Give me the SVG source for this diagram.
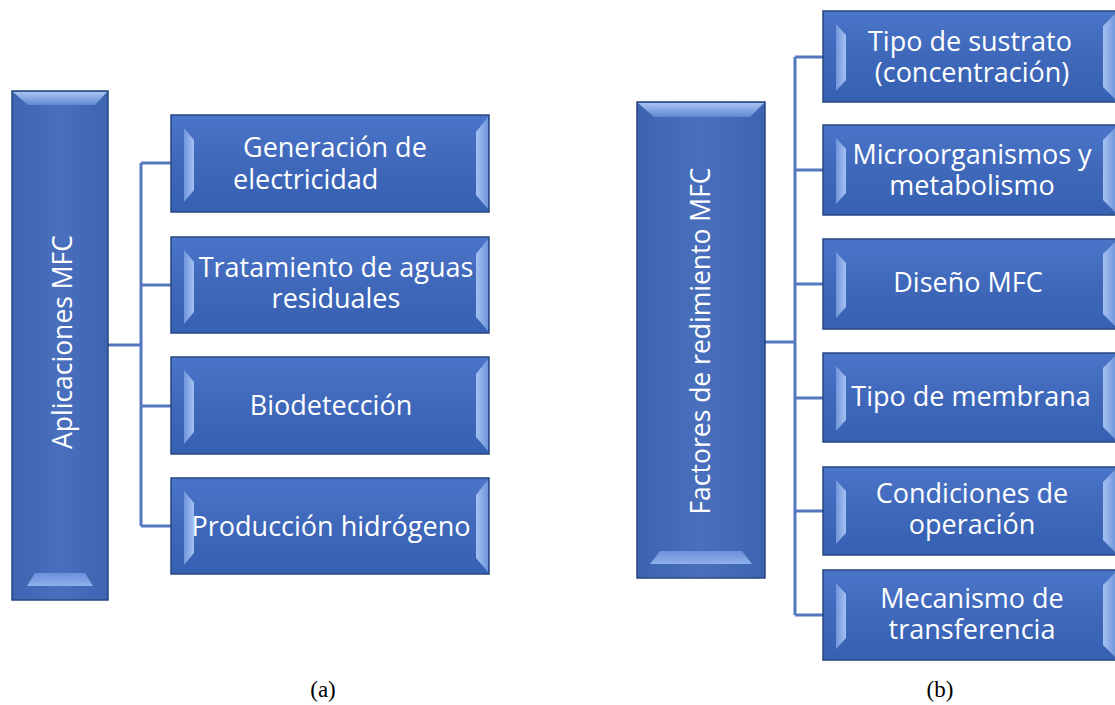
<svg xmlns="http://www.w3.org/2000/svg" width="1115" height="705" viewBox="0 0 1115 705">
<defs>
<linearGradient id="gBox" x1="0" y1="0" x2="0" y2="1">
<stop offset="0" stop-color="#4b75c8"/>
<stop offset="0.5" stop-color="#3f68bb"/>
<stop offset="1" stop-color="#3660b2"/>
</linearGradient>
<linearGradient id="gRoot" x1="0" y1="0" x2="1" y2="0">
<stop offset="0" stop-color="#3d64b0"/>
<stop offset="0.5" stop-color="#4a70bd"/>
<stop offset="1" stop-color="#3d64b0"/>
</linearGradient>
<linearGradient id="gL" x1="0" y1="0" x2="1" y2="0">
<stop offset="0" stop-color="#6f95dc"/>
<stop offset="1" stop-color="#a6c2f2"/>
</linearGradient>
<linearGradient id="gR" x1="0" y1="0" x2="1" y2="0">
<stop offset="0" stop-color="#a6c2f2"/>
<stop offset="1" stop-color="#6f95dc"/>
</linearGradient>
<linearGradient id="gT" x1="0" y1="0" x2="0" y2="1">
<stop offset="0" stop-color="#a9c4f3"/>
<stop offset="1" stop-color="#6088d2"/>
</linearGradient>
<linearGradient id="gB" x1="0" y1="0" x2="0" y2="1">
<stop offset="0" stop-color="#6a90d8"/>
<stop offset="1" stop-color="#8fb0ec"/>
</linearGradient>
</defs>
<style>
.box{fill:url(#gBox);stroke:#27487f;stroke-width:1.5}
.root{fill:url(#gRoot);stroke:#27487f;stroke-width:1.5}
.bl{fill:url(#gL)}
.br{fill:url(#gR)}
.bt{fill:url(#gT)}
.bb{fill:url(#gB)}
.t{font-family:"Open Sans","Liberation Sans",sans-serif;font-size:27px;fill:#ffffff}
.rt{font-family:"Open Sans","Liberation Sans",sans-serif;font-size:26.5px;fill:#ffffff;text-anchor:middle}
.c{text-anchor:middle}
.cap{font-family:"Liberation Serif",serif;font-size:23px;fill:#000;text-anchor:middle}
.con{fill:none;stroke:#5477bf;stroke-width:3}
</style>

<g id="connectors">
<path class="con" d="M108,345 H141 M141,163 V526 M141,163 H171 M141,285 H171 M141,406 H171 M141,526 H171"/>
<path class="con" d="M765,342 H795 M795,57 V615 M795,57 H823 M795,170 H823 M795,284 H823 M795,398 H823 M795,511 H823 M795,615 H823"/>
</g>

<g id="rootA">
<rect class="root" x="12" y="91" width="96" height="509"/>
<polygon class="bt" points="13,92 107,92 95,105 28,105"/>
<polygon class="bb" points="35,573 85,573 93,586 27,586"/>
<text class="rt" transform="translate(72,342) rotate(-90)">Aplicaciones MFC</text>
</g>

<g id="a1">
<rect class="box" x="171" y="115" width="318" height="97"/>
<polygon class="bl" points="184,128 194,140 194,190 184,202"/>
<polygon class="br" points="476,132 488,117 488,209 476,195"/>
<text class="t" x="243" y="157">Generación de</text>
<text class="t" x="233" y="189">electricidad</text>
</g>
<g id="a2">
<rect class="box" x="171" y="237" width="318" height="96"/>
<polygon class="bl" points="184,250 194,262 194,312 184,324"/>
<polygon class="br" points="476,254 488,239 488,331 476,317"/>
<text class="t c" x="336" y="277">Tratamiento de aguas</text>
<text class="t c" x="336" y="308">residuales</text>
</g>
<g id="a3">
<rect class="box" x="171" y="357" width="318" height="97"/>
<polygon class="bl" points="184,370 194,382 194,432 184,444"/>
<polygon class="br" points="476,374 488,359 488,451 476,437"/>
<text class="t c" x="331" y="415">Biodetección</text>
</g>
<g id="a4">
<rect class="box" x="171" y="478" width="318" height="96"/>
<polygon class="bl" points="184,491 194,503 194,553 184,565"/>
<polygon class="br" points="476,495 488,480 488,572 476,558"/>
<text class="t c" x="331" y="536">Producción hidrógeno</text>
</g>

<g id="rootB">
<rect class="root" x="637" y="102" width="128" height="476"/>
<polygon class="bt" points="638,103 764,103 750,117 654,117"/>
<polygon class="bb" points="660,551 742,551 752,564 650,564"/>
<text class="rt" transform="translate(710,341) rotate(-90)">Factores de redimiento MFC</text>
</g>

<g id="b1">
<rect class="box" x="823" y="11" width="300" height="91"/>
<polygon class="bl" points="836,24 846,35 846,80 836,91"/>
<polygon class="br" points="1103,26 1116,13 1116,100 1103,87"/>
<text class="t c" x="970" y="51">Tipo de sustrato</text>
<text class="t c" x="972" y="82">(concentración)</text>
</g>
<g id="b2">
<rect class="box" x="823" y="125" width="300" height="90"/>
<polygon class="bl" points="836,138 846,149 846,193 836,204"/>
<polygon class="br" points="1103,140 1116,127 1116,213 1103,200"/>
<text class="t c" x="972" y="164">Microorganismos y</text>
<text class="t c" x="972" y="195">metabolismo</text>
</g>
<g id="b3">
<rect class="box" x="823" y="239" width="300" height="90"/>
<polygon class="bl" points="836,252 846,263 846,307 836,318"/>
<polygon class="br" points="1103,254 1116,241 1116,327 1103,314"/>
<text class="t c" x="968" y="292">Diseño MFC</text>
</g>
<g id="b4">
<rect class="box" x="823" y="353" width="300" height="89"/>
<polygon class="bl" points="836,366 846,377 846,420 836,431"/>
<polygon class="br" points="1103,368 1116,355 1116,440 1103,427"/>
<text class="t c" x="971" y="406">Tipo de membrana</text>
</g>
<g id="b5">
<rect class="box" x="823" y="467" width="300" height="88"/>
<polygon class="bl" points="836,480 846,491 846,533 836,544"/>
<polygon class="br" points="1103,482 1116,469 1116,553 1103,540"/>
<text class="t c" x="972" y="503">Condiciones de</text>
<text class="t c" x="972" y="534">operación</text>
</g>
<g id="b6">
<rect class="box" x="823" y="570" width="300" height="90"/>
<polygon class="bl" points="836,583 846,594 846,638 836,649"/>
<polygon class="br" points="1103,585 1116,572 1116,658 1103,645"/>
<text class="t c" x="972" y="608">Mecanismo de</text>
<text class="t c" x="972" y="639">transferencia</text>
</g>

<text class="cap" x="323" y="697">(a)</text>
<text class="cap" x="940" y="697">(b)</text>
</svg>
